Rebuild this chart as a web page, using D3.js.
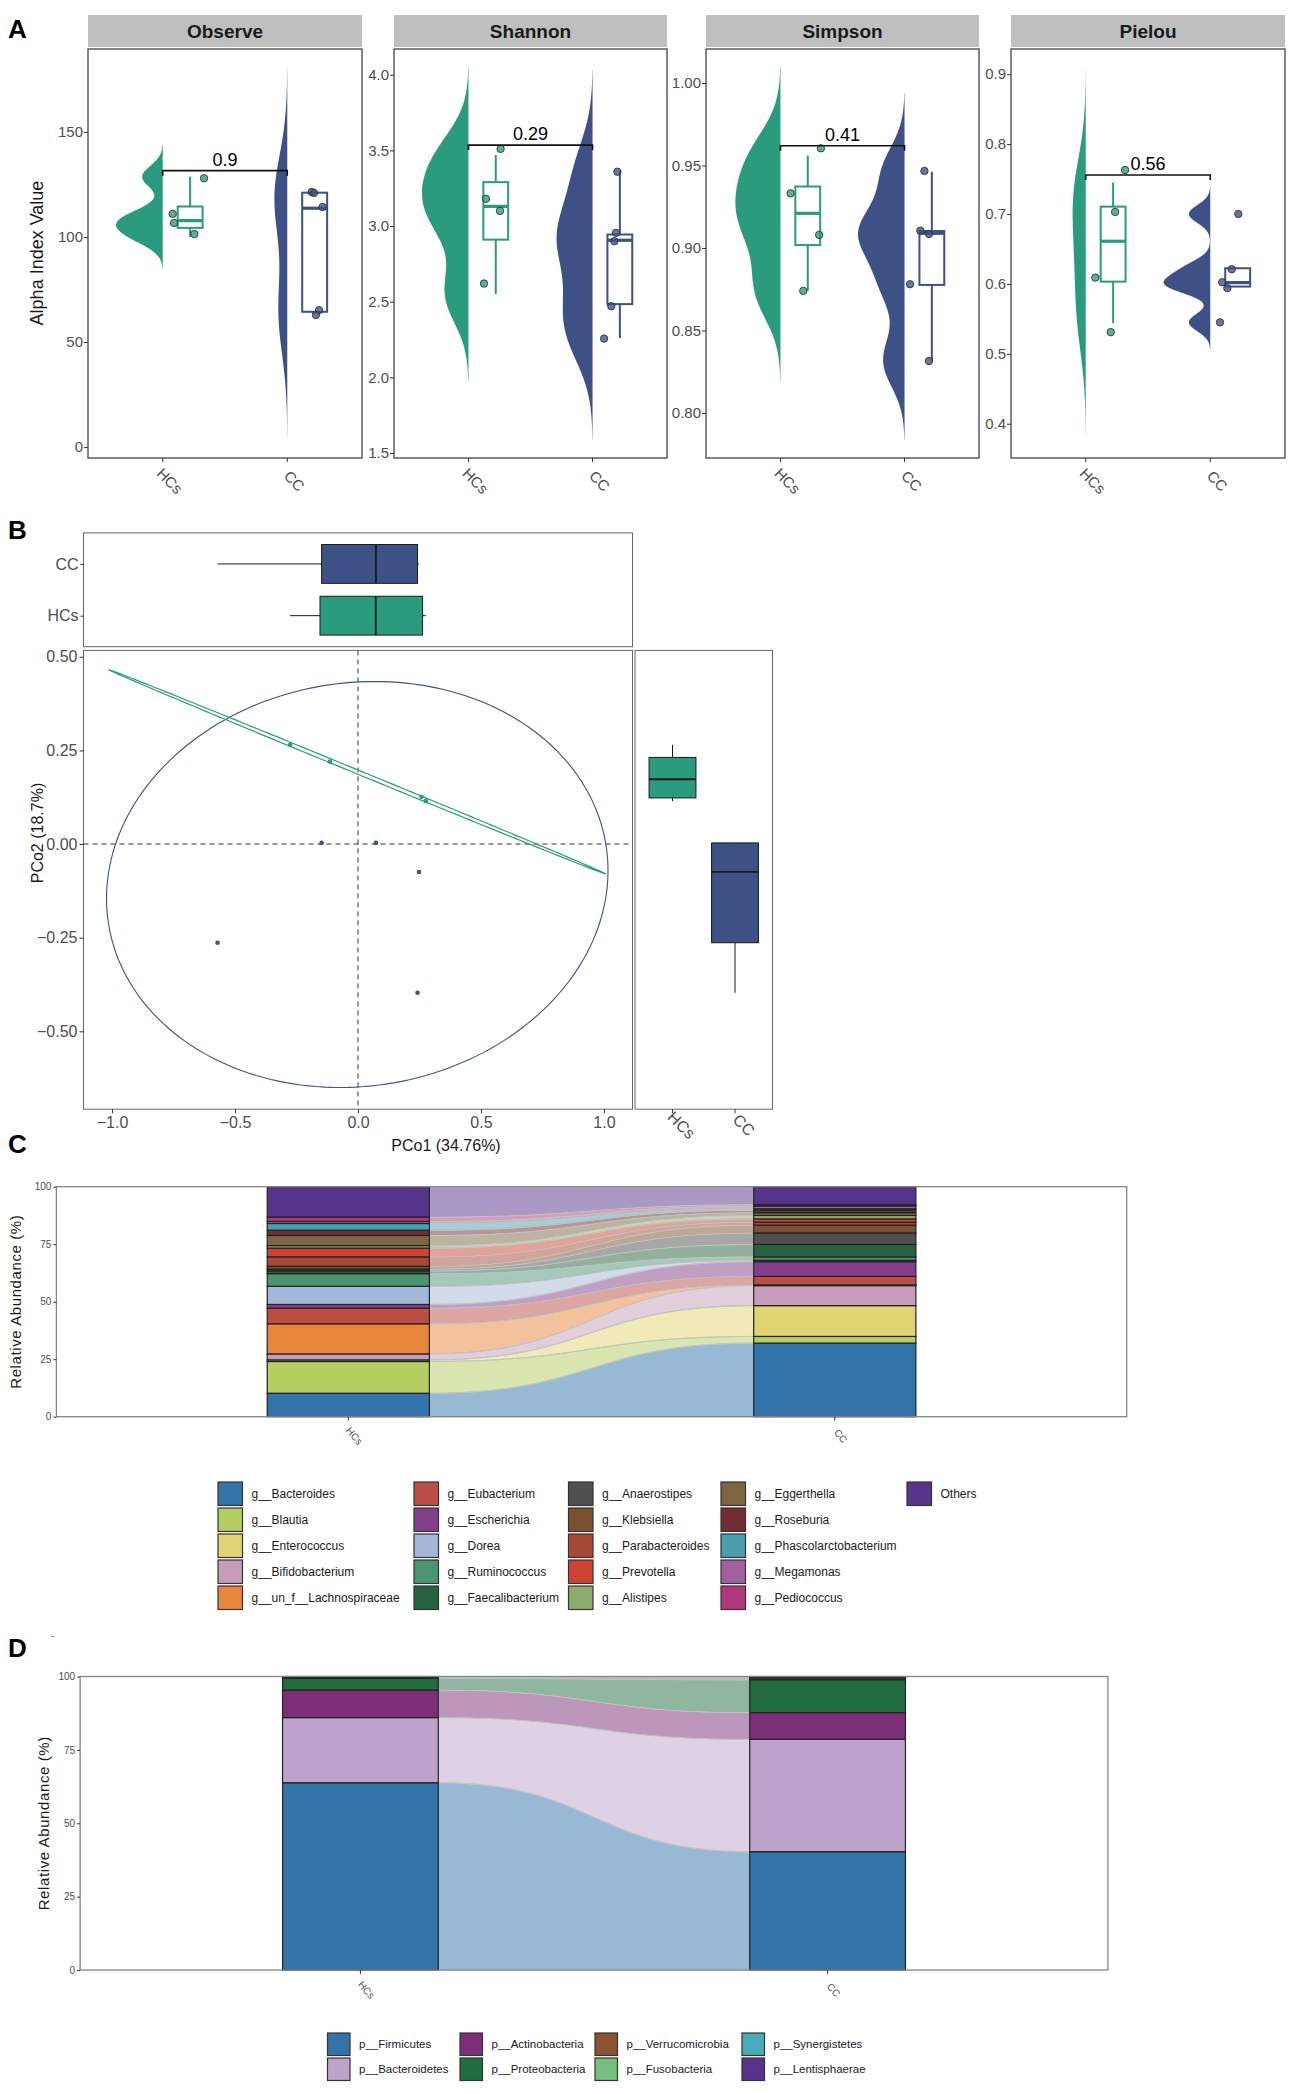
<!DOCTYPE html>
<html><head><meta charset="utf-8">
<script src="https://cdn.jsdelivr.net/npm/d3@7"></script>
<style>body{margin:0;background:#fff}svg{display:block}text{font-family:"Liberation Sans",Arial,sans-serif}</style>
</head><body><svg id="c" width="1299" height="2094"></svg>
<script>
// ---------------- DATA ----------------
const groups = ["HCs", "CC"];
const metrics = ["Observe", "Shannon", "Simpson", "Pielou"];
// underlying alpha-diversity values per group
const obsHCs = [100.0, 105.8, 109.8, 128.7];
const obsCC = [63.5, 64.4, 113.7, 121.1, 121.8];
const shaHCs = [2.55, 3.03, 3.23, 3.47];
const shaCC = [2.26, 2.484, 2.906, 2.944, 3.363];
const simHCs = [0.874, 0.911, 0.931, 0.956];
const simCC = [0.8315, 0.8776, 0.9089, 0.9103, 0.9462];
const pieHCs = [0.544, 0.623, 0.699, 0.745];
const pieCC = [0.545, 0.5962, 0.6019, 0.6224, 0.700];
// jittered points as drawn (y value, x offset in category units)
const obsHCsPtY = [128.0, 111.0, 106.7, 101.4], obsHCsPtDx = [0.332, 0.080, 0.091, 0.254];
const obsCCPtY = [121.4, 121.0, 114.3, 65.2, 62.9], obsCCPtDx = [0.196, 0.215, 0.284, 0.255, 0.230];
const shaHCsPtY = [3.51, 3.18, 3.10, 2.62], shaHCsPtDx = [0.259, 0.141, 0.254, 0.125];
const shaCCPtY = [3.359, 2.955, 2.90, 2.47, 2.256], shaCCPtDx = [0.200, 0.189, 0.176, 0.151, 0.093];
const simHCsPtY = [0.9604, 0.9331, 0.9079, 0.874], simHCsPtDx = [0.326, 0.082, 0.312, 0.184];
const simCCPtY = [0.9467, 0.9105, 0.9085, 0.878, 0.8315], simCCPtDx = [0.160, 0.127, 0.197, 0.044, 0.197];
const pieHCsPtY = [0.763, 0.703, 0.609, 0.531], pieHCsPtDx = [0.316, 0.236, 0.077, 0.201];
const pieCCPtY = [0.70, 0.621, 0.6024, 0.594, 0.545], pieCCPtDx = [0.225, 0.172, 0.096, 0.137, 0.078];
const alphaDomains = [[-5.2, 189.5], [1.467, 4.17], [0.7727, 1.0206], [0.351, 0.936]];
const alphaTicks = [[0, 50, 100, 150], [1.5, 2.0, 2.5, 3.0, 3.5, 4.0], [0.80, 0.85, 0.90, 0.95, 1.00], [0.4, 0.5, 0.6, 0.7, 0.8, 0.9]];
const alphaTickFmt = ["d", ".1f", ".2f", ".1f"];
const pValues = ["0.9", "0.29", "0.41", "0.56"];
const bracketY = [131.6, 3.535, 0.962, 0.7557];

// PCoA
const pcoaHCsX = [-0.276, -0.114, 0.258, 0.276];
const pcoaHCsY = [0.265, 0.220, 0.126, 0.1145];
const pcoaCCX = [-0.148, 0.073, 0.248, -0.571, 0.242];
const pcoaCCY = [0.003, 0.003, -0.0745, -0.2635, -0.397];
// ellipse: centre x, centre y, axis A (x,y), axis B (x,y) in data units
const ellipseHCs = [-0.002, 0.1925, 1.01, -0.2725, -0.0031, -0.0049];
const ellipseCC = [-0.003, -0.108, 1.017, 0.0, 0.07, 0.542];
const pcoaXDomain = [-1.116, 1.116], pcoaYDomain = [-0.708, 0.517];
const pcoaXTicks = [-1.0, -0.5, 0.0, 0.5, 1.0], pcoaYTicks = [-0.5, -0.25, 0, 0.25, 0.5];

// Genus composition (%)
const genera = ["g__Bacteroides", "g__Blautia", "g__Enterococcus", "g__Bifidobacterium", "g__un_f__Lachnospiraceae",
  "g__Eubacterium", "g__Escherichia", "g__Dorea", "g__Ruminococcus", "g__Faecalibacterium",
  "g__Anaerostipes", "g__Klebsiella", "g__Parabacteroides", "g__Prevotella", "g__Alistipes",
  "g__Eggerthella", "g__Roseburia", "g__Phascolarctobacterium", "g__Megamonas", "g__Pediococcus", "Others"];
const genusColors = ["#3274a9", "#b5ce62", "#e0d572", "#c59db8", "#e8863b",
  "#bb4d45", "#843f8b", "#a3b8d6", "#4a9473", "#27613d",
  "#505050", "#7b5130", "#a64a35", "#cc4336", "#8dab6a",
  "#7d6543", "#702d33", "#4a9fae", "#a0609e", "#b2387e", "#56348c"];
const genusHCs = [10.2, 13.8, 0.7, 2.6, 13.1, 6.8, 1.6, 7.9, 5.5, 1.2, 0.8, 1.2, 4.1, 3.8, 1.1, 4.4, 2.3, 2.9, 0.9, 1.9, 13.2];
const genusCC = [32.0, 2.9, 13.4, 8.7, 0.3, 3.7, 6.4, 0.6, 1.5, 5.4, 5.0, 3.4, 1.3, 1.4, 1.5, 1.2, 1.1, 0.6, 1.2, 0.6, 7.8];

// Phylum composition (%)
const phyla = ["p__Firmicutes", "p__Bacteroidetes", "p__Actinobacteria", "p__Proteobacteria",
  "p__Verrucomicrobia", "p__Fusobacteria", "p__Synergistetes", "p__Lentisphaerae"];
const phylumColors = ["#3274a9", "#bda3cb", "#7c2f77", "#226d40", "#8b5331", "#75c07a", "#4aabba", "#563290"];
const phylumHCs = [63.8, 22.2, 9.4, 4.0, 0.3, 0.2, 0.05, 0.05];
const phylumCC = [40.3, 38.3, 9.1, 11.2, 0.6, 0.3, 0.1, 0.1];
const abundTicks = [0, 25, 50, 75, 100];

// ---------------- HELPERS ----------------
const svg = d3.select("#c");
const GREEN = "#2b9b7e", NAVY = "#3e5186";
const groupColors = [GREEN, NAVY];
const TICKC = "#4d4d4d";

function nrd0(v) {
  const s = d3.sort(v);
  const sd = d3.deviation(s);
  const iqr = d3.quantile(s, 0.75) - d3.quantile(s, 0.25);
  let lo = Math.min(sd, iqr / 1.34);
  if (!(lo > 0)) lo = sd || 1;
  return 0.9 * lo * Math.pow(s.length, -0.2);
}
function kde(v) {
  const bw = nrd0(v);
  const lo = d3.min(v) - 3 * bw, hi = d3.max(v) + 3 * bw, n = 512, out = [];
  for (let k = 0; k < n; k++) {
    const t = lo + (hi - lo) * k / (n - 1);
    let s = 0;
    for (const xi of v) { const z = (t - xi) / bw; s += Math.exp(-0.5 * z * z); }
    out.push([t, s / (v.length * bw * Math.sqrt(2 * Math.PI))]);
  }
  return out;
}
function boxStats(v) {
  const s = d3.sort(v);
  const q1 = d3.quantile(s, 0.25), med = d3.quantile(s, 0.5), q3 = d3.quantile(s, 0.75), iqr = q3 - q1;
  const lo = d3.min(s.filter(d => d >= q1 - 1.5 * iqr));
  const hi = d3.max(s.filter(d => d <= q3 + 1.5 * iqr));
  return { q1, med, q3, lo, hi };
}
function styleAxis(g, fs, color) {
  g.select(".domain").remove();
  g.selectAll(".tick line").attr("stroke", "#333").attr("stroke-width", 1);
  g.selectAll(".tick text").attr("font-size", fs).attr("fill", color || TICKC)
    .attr("font-family", '"Liberation Sans",Arial,sans-serif');
}
function panelLabel(t, x, y) {
  svg.append("text").attr("x", x).attr("y", y).attr("font-size", 26).attr("font-weight", "bold")
    .attr("fill", "#000").text(t);
}

// ---------------- PANEL A ----------------
panelLabel("A", 8, 38);
const alphaHCs = [obsHCs, shaHCs, simHCs, pieHCs];
const alphaCC = [obsCC, shaCC, simCC, pieCC];
const ptY = [[obsHCsPtY, obsCCPtY], [shaHCsPtY, shaCCPtY], [simHCsPtY, simCCPtY], [pieHCsPtY, pieCCPtY]];
const ptDx = [[obsHCsPtDx, obsCCPtDx], [shaHCsPtDx, shaCCPtDx], [simHCsPtDx, simCCPtDx], [pieHCsPtDx, pieCCPtDx]];
const aX = [[88, 362], [394, 667], [706, 979], [1011, 1285]];
const aT = 49, aB = 458;
metrics.forEach((m, i) => {
  const [x0, x1] = aX[i];
  const x = d3.scalePoint().domain(groups).range([x0, x1]).padding(0.6);
  const u = x.step();
  const y = d3.scaleLinear().domain(alphaDomains[i]).range([aB, aT]);
  const g = svg.append("g");
  g.append("rect").attr("x", x0).attr("y", 15).attr("width", x1 - x0).attr("height", 32).attr("fill", "#bfbfbf");
  g.append("text").attr("x", (x0 + x1) / 2).attr("y", 31).attr("dy", "0.36em").attr("text-anchor", "middle")
    .attr("font-weight", "bold").attr("font-size", 19).attr("fill", "#1a1a1a").text(m);
  const vals = [alphaHCs[i], alphaCC[i]];
  const dens = vals.map(kde);
  const maxD = d3.max(dens, d => d3.max(d, p => p[1]));
  dens.forEach((d, gi) => {
    const cx = x(groups[gi]);
    g.append("path").datum(d)
      .attr("d", d3.area().y(p => y(p[0])).x0(cx).x1(p => cx - p[1] / maxD * 0.375 * u))
      .attr("fill", groupColors[gi]);
  });
  vals.forEach((v, gi) => {
    const st = boxStats(v);
    const bx = x(groups[gi]) + 0.22 * u, bw = 0.2 * u, c = groupColors[gi];
    g.append("line").attr("x1", bx).attr("x2", bx).attr("y1", y(st.hi)).attr("y2", y(st.q3)).attr("stroke", c).attr("stroke-width", 2);
    g.append("line").attr("x1", bx).attr("x2", bx).attr("y1", y(st.lo)).attr("y2", y(st.q1)).attr("stroke", c).attr("stroke-width", 2);
    g.append("rect").attr("x", bx - bw / 2).attr("width", bw).attr("y", y(st.q3)).attr("height", y(st.q1) - y(st.q3))
      .attr("fill", "#fff").attr("stroke", c).attr("stroke-width", 2);
    g.append("line").attr("x1", bx - bw / 2).attr("x2", bx + bw / 2).attr("y1", y(st.med)).attr("y2", y(st.med))
      .attr("stroke", c).attr("stroke-width", 3.2);
  });
  [0, 1].forEach(gi => {
    ptY[i][gi].forEach((v, k) => {
      g.append("circle").attr("cx", x(groups[gi]) + ptDx[i][gi][k] * u).attr("cy", y(v)).attr("r", 3.7)
        .attr("fill", groupColors[gi]).attr("fill-opacity", 0.78).attr("stroke", "#333").attr("stroke-width", 0.9);
    });
  });
  const by = y(bracketY[i]), xa = x("HCs"), xb = x("CC");
  g.append("path").attr("d", `M${xa},${by + 5}V${by}H${xb}V${by + 5}`).attr("fill", "none").attr("stroke", "#111").attr("stroke-width", 1.6);
  g.append("text").attr("x", (xa + xb) / 2).attr("y", by - 5).attr("text-anchor", "middle").attr("font-size", 18).attr("fill", "#000").text(pValues[i]);
  g.append("rect").attr("x", x0).attr("y", aT).attr("width", x1 - x0).attr("height", aB - aT).attr("fill", "none").attr("stroke", "#444").attr("stroke-width", 1.3);
  const ya = g.append("g").attr("transform", `translate(${x0},0)`)
    .call(d3.axisLeft(y).tickValues(alphaTicks[i]).tickFormat(d3.format(alphaTickFmt[i])).tickSize(4).tickPadding(1));
  styleAxis(ya, 15);
  groups.forEach(gr => {
    g.append("line").attr("x1", x(gr)).attr("x2", x(gr)).attr("y1", aB).attr("y2", aB + 4).attr("stroke", "#333");
    g.append("text").attr("transform", `translate(${x(gr) + 7},${481}) rotate(45)`).attr("text-anchor", "middle")
      .attr("dy", "0.35em").attr("font-size", 15).attr("fill", TICKC).text(gr);
  });
});
svg.append("text").attr("transform", "translate(37,253) rotate(-90)").attr("text-anchor", "middle").attr("dy", "0.35em")
  .attr("font-size", 18).attr("fill", "#1a1a1a").text("Alpha Index Value");

// ---------------- PANEL B ----------------
panelLabel("B", 8, 539);
const mL = 83.5, mR = 632.5, mT = 650.4, mB = 1109.2, tT = 532.9, tB = 646.7, rL = 635, rR = 772.5;
const xB = d3.scaleLinear().domain(pcoaXDomain).range([mL, mR]);
const yB = d3.scaleLinear().domain(pcoaYDomain).range([mB, mT]);
const gB = svg.append("g");
[[mL, tT, mR, tB], [mL, mT, mR, mB], [rL, mT, rR, mB]].forEach(([a, b, c, d]) =>
  gB.append("rect").attr("x", a).attr("y", b).attr("width", c - a).attr("height", d - b).attr("fill", "#fff").attr("stroke", "#666").attr("stroke-width", 1));
// clip for main
svg.append("defs").append("clipPath").attr("id", "clipB").append("rect").attr("x", mL).attr("y", mT).attr("width", mR - mL).attr("height", mB - mT);
const gM = gB.append("g").attr("clip-path", "url(#clipB)");
gM.append("line").attr("x1", xB(0)).attr("x2", xB(0)).attr("y1", mT).attr("y2", mB).attr("stroke", "#333").attr("stroke-dasharray", "5,4");
gM.append("line").attr("x1", mL).attr("x2", mR).attr("y1", yB(0)).attr("y2", yB(0)).attr("stroke", "#333").attr("stroke-dasharray", "5,4");
function ellipsePts(e) {
  return d3.range(0, 201).map(k => {
    const t = 2 * Math.PI * k / 200;
    return [e[0] + e[2] * Math.cos(t) + e[4] * Math.sin(t), e[1] + e[3] * Math.cos(t) + e[5] * Math.sin(t)];
  });
}
const eLine = d3.line().x(p => xB(p[0])).y(p => yB(p[1]));
gM.append("path").attr("d", eLine(ellipsePts(ellipseCC))).attr("fill", "none").attr("stroke", NAVY).attr("stroke-width", 1.1);
gM.append("path").attr("d", eLine(ellipsePts(ellipseHCs))).attr("fill", "none").attr("stroke", GREEN).attr("stroke-width", 1.2);
pcoaCCX.forEach((v, k) => gM.append("circle").attr("cx", xB(v)).attr("cy", yB(pcoaCCY[k])).attr("r", 2.3).attr("fill", NAVY));
pcoaHCsX.forEach((v, k) => gM.append("circle").attr("cx", xB(v)).attr("cy", yB(pcoaHCsY[k])).attr("r", 2.3).attr("fill", GREEN));
const axBx = gB.append("g").attr("transform", `translate(0,${mB})`).call(d3.axisBottom(xB).tickValues(pcoaXTicks).tickFormat(d3.format(".1f")).tickSize(4).tickPadding(3));
styleAxis(axBx, 16);
const axBy = gB.append("g").attr("transform", `translate(${mL},0)`).call(d3.axisLeft(yB).tickValues(pcoaYTicks).tickFormat(d3.format(".2f")).tickSize(4).tickPadding(2));
styleAxis(axBy, 16);
svg.append("text").attr("x", 446).attr("y", 1151).attr("text-anchor", "middle").attr("font-size", 16).attr("fill", "#1a1a1a").text("PCo1 (34.76%)");
svg.append("text").attr("transform", "translate(37,833) rotate(-90)").attr("text-anchor", "middle").attr("dy", "0.35em").attr("font-size", 16).attr("fill", "#1a1a1a").text("PCo2 (18.7%)");
// top boxplot (PCo1 by group)
const yTop = d3.scalePoint().domain(groups).range([tB, tT]).padding(0.6);
const xValsB = [pcoaHCsX, pcoaCCX], yValsB = [pcoaHCsY, pcoaCCY];
groups.forEach((gr, gi) => {
  const st = boxStats(xValsB[gi]), cy = yTop(gr), h = 0.75 * yTop.step();
  gB.append("line").attr("x1", xB(st.lo)).attr("x2", xB(st.hi)).attr("y1", cy).attr("y2", cy).attr("stroke", "#1a1a1a");
  gB.append("rect").attr("x", xB(st.q1)).attr("width", xB(st.q3) - xB(st.q1)).attr("y", cy - h / 2).attr("height", h)
    .attr("fill", groupColors[gi]).attr("stroke", "#1a1a1a").attr("stroke-width", 1);
  gB.append("line").attr("x1", xB(st.med)).attr("x2", xB(st.med)).attr("y1", cy - h / 2).attr("y2", cy + h / 2).attr("stroke", "#1a1a1a").attr("stroke-width", 1.8);
});
const axTop = gB.append("g").attr("transform", `translate(${mL},0)`).call(d3.axisLeft(yTop).tickSize(3).tickPadding(2));
styleAxis(axTop, 16);
// right boxplot (PCo2 by group)
const xR = d3.scalePoint().domain(groups).range([rL, rR]).padding(0.6);
groups.forEach((gr, gi) => {
  const st = boxStats(yValsB[gi]), cx = xR(gr), w = 0.75 * xR.step();
  gB.append("line").attr("x1", cx).attr("x2", cx).attr("y1", yB(st.lo)).attr("y2", yB(st.hi)).attr("stroke", "#1a1a1a");
  gB.append("rect").attr("x", cx - w / 2).attr("width", w).attr("y", yB(st.q3)).attr("height", yB(st.q1) - yB(st.q3))
    .attr("fill", groupColors[gi]).attr("stroke", "#1a1a1a").attr("stroke-width", 1);
  gB.append("line").attr("x1", cx - w / 2).attr("x2", cx + w / 2).attr("y1", yB(st.med)).attr("y2", yB(st.med)).attr("stroke", "#1a1a1a").attr("stroke-width", 1.8);
  gB.append("line").attr("x1", cx).attr("x2", cx).attr("y1", mB).attr("y2", mB + 4).attr("stroke", "#333");
  gB.append("text").attr("transform", `translate(${cx + 9},${1125}) rotate(45)`).attr("text-anchor", "middle").attr("dy", "0.35em")
    .attr("font-size", 16).attr("fill", TICKC).text(gr);
});

// ---------------- PANELS C & D (alluvial) ----------------
function alluvial(cats, colors, hv, cv, L, R, T, Bt, ytitleX, tickLabY) {
  const g = svg.append("g");
  const x = d3.scalePoint().domain(groups).range([L, R]).padding(0.6);
  const bw = x.step() / 3;
  const y = d3.scaleLinear().domain([0, 100]).range([Bt, T]);
  g.append("rect").attr("x", L).attr("y", T).attr("width", R - L).attr("height", Bt - T).attr("fill", "#fff");
  const cumH = d3.cumsum(hv), cumC = d3.cumsum(cv);
  const xa = x("HCs") + bw / 2, xb = x("CC") - bw / 2, xm = (xa + xb) / 2;
  cats.forEach((c, i) => {
    const h1 = y(cumH[i]), h0 = y(cumH[i] - hv[i]), c1 = y(cumC[i]), c0 = y(cumC[i] - cv[i]);
    g.append("path").attr("d", `M${xa},${h1}C${xm},${h1} ${xm},${c1} ${xb},${c1}L${xb},${c0}C${xm},${c0} ${xm},${h0} ${xa},${h0}Z`)
      .attr("fill", colors[i]).attr("fill-opacity", 0.5).attr("stroke", "#c4c4c4").attr("stroke-width", 1);
  });
  [[hv, cumH, "HCs"], [cv, cumC, "CC"]].forEach(([vals, cum, gr]) => {
    const cx = x(gr);
    cats.forEach((c, i) => {
      g.append("rect").attr("x", cx - bw / 2).attr("width", bw).attr("y", y(cum[i])).attr("height", y(cum[i] - vals[i]) - y(cum[i]))
        .attr("fill", colors[i]).attr("stroke", "#222").attr("stroke-width", 1.2);
    });
  });
  g.append("rect").attr("x", L).attr("y", T).attr("width", R - L).attr("height", Bt - T).attr("fill", "none").attr("stroke", "#858585").attr("stroke-width", 1.3);
  const ay = g.append("g").attr("transform", `translate(${L},0)`).call(d3.axisLeft(y).tickValues(abundTicks).tickSize(3).tickPadding(2));
  styleAxis(ay, 10);
  ay.selectAll(".tick text").attr("font-family", '"Liberation Sans Narrow","DejaVu Sans Condensed",sans-serif');
  groups.forEach(gr => {
    g.append("line").attr("x1", x(gr)).attr("x2", x(gr)).attr("y1", Bt).attr("y2", Bt + 4).attr("stroke", "#333");
    g.append("text").attr("transform", `translate(${x(gr) + 6},${tickLabY}) rotate(50)`).attr("text-anchor", "middle").attr("dy", "0.35em")
      .attr("font-size", 10).attr("fill", TICKC).attr("font-family", '"Liberation Sans Narrow","DejaVu Sans Condensed",sans-serif').text(gr);
  });
  svg.append("text").attr("transform", `translate(${ytitleX},${(T + Bt) / 2}) rotate(-90)`).attr("text-anchor", "middle").attr("dy", "0.35em")
    .attr("font-size", 15).attr("letter-spacing", 0.6).attr("fill", "#1a1a1a").text("Relative Abundance (%)");
}
function legend(cats, colors, nrow, colX, rowY0, pitch, key, fs) {
  const g = svg.append("g");
  cats.forEach((c, i) => {
    const col = Math.floor(i / nrow), row = i % nrow;
    const kx = colX[col], ky = rowY0 + row * pitch;
    g.append("rect").attr("x", kx).attr("y", ky).attr("width", key[0]).attr("height", key[1]).attr("fill", colors[i]).attr("stroke", "#333").attr("stroke-width", 1.2);
    g.append("text").attr("x", kx + key[0] + 9).attr("y", ky + key[1] / 2).attr("dy", "0.35em").attr("font-size", fs).attr("fill", "#1a1a1a").text(c);
  });
}
panelLabel("C", 8, 1153);
alluvial(genera, genusColors, genusHCs, genusCC, 56.4, 1126.7, 1186.7, 1416.7, 16, 1436);
legend(genera, genusColors, 5, [218, 414, 568.5, 721, 907], 1482, 26, [24.5, 23.5], 12);

panelLabel("D", 8, 1657);
svg.append("text").attr("x", 51).attr("y", 1639).attr("font-size", 9).attr("fill", "#333").text("-");
alluvial(phyla, phylumColors, phylumHCs, phylumCC, 80.1, 1107.9, 1676.5, 1970, 43.5, 1990);
legend(phyla, phylumColors, 2, [327.5, 460, 595, 742], 2033, 25, [22.5, 22.5], 11.5);
</script></body></html>
